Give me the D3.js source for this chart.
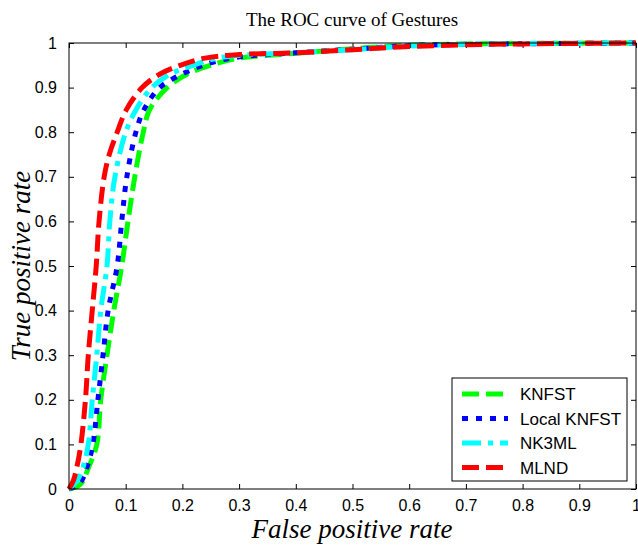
<!DOCTYPE html>
<html>
<head>
<meta charset="utf-8">
<script src="https://cdn.jsdelivr.net/npm/d3@7"></script>
<style>
  body { margin: 0; background: #fff; }
  svg { display: block; }
</style>
</head>
<body>
<div id="chart"></div>
<script>
// ROC points, [fpr, tpr]
const knfst = [[0,0],[0.02,0.01],[0.035,0.05],[0.049,0.1],[0.056,0.2],[0.067,0.3],[0.079,0.4],[0.093,0.5],[0.104,0.6],[0.116,0.7],[0.131,0.8],[0.142,0.85],[0.173,0.9],[0.208,0.93],[0.249,0.95],[0.3,0.966],[0.4,0.977],[0.5,0.987],[0.6,0.995],[0.7,0.998],[1,1]];
const localKnfst = [[0,0],[0.02,0.015],[0.032,0.05],[0.042,0.1],[0.051,0.2],[0.06,0.3],[0.069,0.4],[0.085,0.5],[0.093,0.6],[0.102,0.7],[0.118,0.8],[0.132,0.85],[0.16,0.9],[0.199,0.93],[0.236,0.95],[0.29,0.967],[0.4,0.978],[0.5,0.986],[0.6,0.994],[0.7,0.997],[1,1]];
const nk3ml = [[0,0],[0.015,0.02],[0.025,0.05],[0.034,0.1],[0.041,0.2],[0.049,0.3],[0.056,0.4],[0.067,0.5],[0.072,0.6],[0.081,0.7],[0.1,0.8],[0.118,0.85],[0.146,0.9],[0.178,0.93],[0.219,0.95],[0.27,0.968],[0.4,0.978],[0.5,0.985],[0.6,0.993],[0.7,0.997],[0.8,0.999],[1,1]];
const mlnd = [[0,0],[0.008,0.02],[0.014,0.05],[0.021,0.1],[0.029,0.2],[0.034,0.3],[0.041,0.4],[0.048,0.5],[0.053,0.6],[0.062,0.7],[0.071,0.75],[0.085,0.8],[0.101,0.85],[0.129,0.9],[0.16,0.93],[0.196,0.95],[0.24,0.966],[0.3,0.974],[0.4,0.978],[0.5,0.985],[0.6,0.992],[0.7,0.996],[0.8,0.998],[1,1]];

const seriesNames = ["KNFST", "Local KNFST", "NK3ML", "MLND"];
const seriesData = [knfst, localKnfst, nk3ml, mlnd];
const seriesColors = ["#00ff00", "#0000ff", "#00ffff", "#ff0000"];
const seriesDash = ["17,7", "6,8", "19,7,5,7", "17,7"];

const tickValues = [0, 0.1, 0.2, 0.3, 0.4, 0.5, 0.6, 0.7, 0.8, 0.9, 1];

const width = 638, height = 547;
const margin = { left: 69, right: 2, top: 43, bottom: 58 };

const svg = d3.select("#chart").append("svg")
    .attr("width", width)
    .attr("height", height);

const x = d3.scaleLinear().domain([0, 1]).range([margin.left, width - margin.right]);
const y = d3.scaleLinear().domain([0, 1]).range([height - margin.bottom, margin.top]);

const tickFmt = d => d === 0 || d === 1 ? String(d) : d3.format(".1f")(d);

// axes, MATLAB style: ticks inside on all four sides
function styleAxis(g) {
    g.select(".domain").remove();
    g.selectAll(".tick line").attr("stroke", "#000").attr("stroke-width", 1);
    g.selectAll(".tick text")
        .attr("font-family", "'Liberation Sans', Arial, sans-serif")
        .attr("font-size", 16)
        .attr("fill", "#000");
}

svg.append("g")
    .attr("transform", `translate(0,${y(0)})`)
    .call(d3.axisBottom(x).tickValues(tickValues).tickFormat(tickFmt).tickSizeInner(-5).tickPadding(11))
    .call(styleAxis);

svg.append("g")
    .attr("transform", `translate(0,${y(1)})`)
    .call(d3.axisTop(x).tickValues(tickValues).tickFormat("").tickSizeInner(-5))
    .call(styleAxis);

svg.append("g")
    .attr("transform", `translate(${x(0)},0)`)
    .call(d3.axisLeft(y).tickValues(tickValues).tickFormat(tickFmt).tickSizeInner(-5).tickPadding(12))
    .call(styleAxis);

svg.append("g")
    .attr("transform", `translate(${x(1)},0)`)
    .call(d3.axisRight(y).tickValues(tickValues).tickFormat("").tickSizeInner(-5))
    .call(styleAxis);

// curves
const line = d3.line()
    .x(d => x(d[0]))
    .y(d => y(d[1]))
    .curve(d3.curveCatmullRom.alpha(0.5));

seriesData.forEach((data, i) => {
    svg.append("path")
        .datum(data)
        .attr("fill", "none")
        .attr("stroke", seriesColors[i])
        .attr("stroke-width", 5)
        .attr("stroke-dasharray", seriesDash[i])
        .attr("d", line);
});

// box
svg.append("rect")
    .attr("x", x(0)).attr("y", y(1))
    .attr("width", x(1) - x(0)).attr("height", y(0) - y(1))
    .attr("fill", "none").attr("stroke", "#000").attr("stroke-width", 1);

// legend
const legend = svg.append("g").attr("transform", "translate(452,378)");
legend.append("rect")
    .attr("width", 175).attr("height", 103)
    .attr("fill", "#fff").attr("stroke", "#000").attr("stroke-width", 1);

seriesNames.forEach((name, i) => {
    const ly = 16 + i * 24.5;
    legend.append("line")
        .attr("x1", 10).attr("x2", 56)
        .attr("y1", ly).attr("y2", ly)
        .attr("stroke", seriesColors[i])
        .attr("stroke-width", 5)
        .attr("stroke-dasharray", seriesDash[i]);
    legend.append("text")
        .attr("x", 68).attr("y", ly + 6)
        .attr("font-family", "'Liberation Sans', Arial, sans-serif")
        .attr("font-size", 17)
        .text(name);
});

// title and axis labels
svg.append("text")
    .attr("x", 352).attr("y", 26)
    .attr("text-anchor", "middle")
    .attr("font-family", "'Liberation Serif', 'Times New Roman', serif")
    .attr("font-size", 19)
    .text("The ROC curve of Gestures");

svg.append("text")
    .attr("x", 352).attr("y", 538)
    .attr("text-anchor", "middle")
    .attr("font-family", "'Liberation Serif', 'Times New Roman', serif")
    .attr("font-style", "italic")
    .attr("font-size", 27)
    .text("False positive rate");

svg.append("text")
    .attr("transform", "translate(30,266) rotate(-90)")
    .attr("text-anchor", "middle")
    .attr("font-family", "'Liberation Serif', 'Times New Roman', serif")
    .attr("font-style", "italic")
    .attr("font-size", 27)
    .text("True positive rate");
</script>
</body>
</html>
